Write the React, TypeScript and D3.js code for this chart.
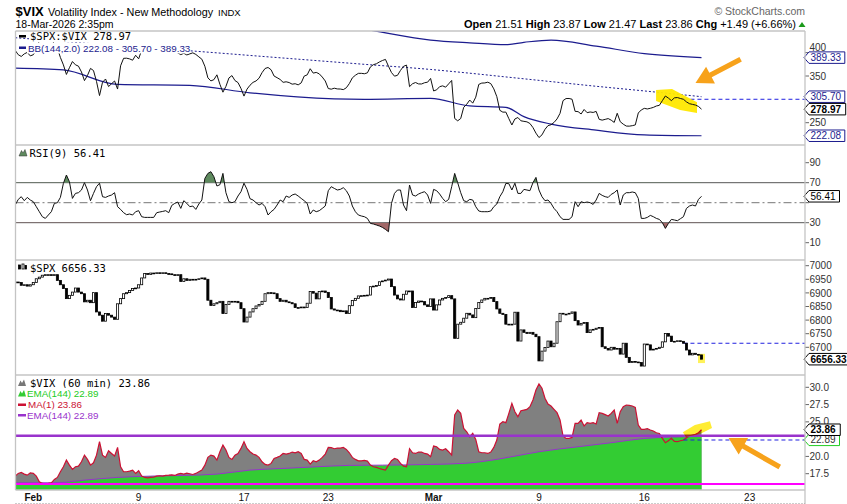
import React from "react"
import * as d3 from "d3"

// 60-minute bars. bar 0 = Mon 2 Feb 9:30, bar 222 = Wed 18 Mar 14:30 (last, partial day)
const firstBar = -6

const vixClose = [
  17.15, 17.54, 17.68, 17.44, 17.29, 17.63, // Jan 30
  17.54, 17.15, 16.33, 16.09, 16.04, 16.09, 16.18, // Feb 2
  16.67, 16.96, 17.78, 18.5, 19.47, 18.74, 18.12,
  18.5, 18.6, 19.23, 20.19, 19.57, 18.74, 19.08,
  20.19, 22.13, 20.19, 19.86, 20.82, 20.43, 20.05,
  21.3, 18.5, 17.78, 17.78, 17.87, 18.02, 17.54,
  17.92, 17.15, 16.96, 16.91, 16.96, 17.0, 17.15, // Feb 9
  17.2, 17.15, 17.25, 17.29, 17.34, 17.25, 17.44,
  17.54, 17.44, 17.58, 17.49, 17.39, 17.54, 17.78,
  18.02, 18.74, 19.86, 20.19, 20.05, 19.47, 20.68,
  21.64, 20.92, 19.86, 19.57, 20.19, 20.43, 21.16,
  22.13, 21.16, 20.68, 20.34, 20.19, 19.86, 19.23, // Feb 17
  18.84, 18.74, 18.99, 19.71, 19.86, 20.05, 20.43,
  20.34, 20.43, 20.63, 20.53, 20.68, 20.43, 19.57,
  19.47, 18.89, 19.37, 19.23, 19.47, 19.86, 20.34,
  21.3, 21.26, 21.11, 21.21, 21.21, 21.3, 21.01, // Feb 23
  20.53, 19.86, 19.57, 19.37, 19.37, 19.42, 19.32,
  18.74, 18.5, 18.41, 18.26, 18.12, 18.02, 18.74,
  19.37, 19.71, 19.57, 18.99, 18.6, 18.5, 21.11,
  20.53, 20.43, 20.63, 20.63, 20.43, 20.34, 19.95,
  21.5, 21.4, 21.01, 20.92, 21.11, 20.68, 20.2, // Mar 2
  25.99, 26.71, 26.23, 24.06, 23.57, 22.85, 23.33,
  22.46, 20.68, 20.53, 20.53, 20.43, 20.63, 21.3,
  22.37, 24.69, 25.02, 24.88, 26.23, 27.68, 26.47,
  25.75, 26.62, 26.71, 26.81, 27.2, 28.16, 29.61,
  30.48, 29.86, 28.41, 27.58, 27.29, 26.81, 26.33, // Mar 9
  25.27, 22.95, 22.61, 22.61, 22.75, 24.78, 24.78,
  25.27, 24.4, 24.88, 24.78, 24.88, 24.69, 26.33,
  26.23, 26.04, 25.85, 26.23, 26.71, 24.78, 26.47,
  27.2, 27.44, 27.39, 27.29, 27.1, 24.54, 23.91,
  23.91, 24.01, 23.82, 23.67, 23.43, 23.33, 22.61, // Mar 16
  21.98, 22.27, 22.61, 22.17, 22.13, 22.27, 22.37,
  22.71, 22.95, 23.09, 23.19, 23.43, 23.86,
]

const spxClose = [
  6940, 6938, 6928, 6930, 6925, 6930, // Jan 30
  6938, 6952, 6958, 6965, 6967, 6967, 6965, // Feb 2
  6967, 6946, 6930, 6916, 6879, 6891, 6903,
  6918, 6903, 6897, 6867, 6873, 6864, 6901,
  6830, 6818, 6796, 6824, 6818, 6811, 6803,
  6860, 6879, 6897, 6901, 6909, 6916, 6918,
  6930, 6955, 6971, 6968, 6973, 6971, 6974, // Feb 9
  6972, 6974, 6971, 6970, 6967, 6965, 6967,
  6942, 6952, 6946, 6950, 6949, 6950, 6952,
  6955, 6950, 6873, 6854, 6860, 6864, 6869,
  6824, 6857, 6869, 6867, 6869, 6864, 6842,
  6793, 6811, 6830, 6842, 6852, 6857, 6869, // Feb 17
  6897, 6901, 6900, 6897, 6879, 6869, 6873,
  6867, 6864, 6860, 6846, 6846, 6848, 6846,
  6862, 6905, 6899, 6878, 6905, 6907, 6902,
  6883, 6841, 6837, 6836, 6831, 6834, 6824, // Feb 23
  6853, 6872, 6880, 6889, 6890, 6891, 6892,
  6923, 6925, 6927, 6941, 6944, 6947, 6951,
  6923, 6892, 6878, 6874, 6895, 6907, 6907,
  6846, 6865, 6870, 6868, 6856, 6850, 6878,
  6837, 6856, 6874, 6880, 6883, 6890, 6878, // Mar 2
  6733, 6785, 6792, 6807, 6825, 6819, 6809,
  6843, 6865, 6874, 6880, 6880, 6883, 6868,
  6841, 6825, 6821, 6785, 6782, 6785, 6829,
  6723, 6764, 6755, 6751, 6755, 6748, 6739,
  6650, 6686, 6699, 6723, 6702, 6715, 6794, // Mar 9
  6825, 6822, 6822, 6825, 6830, 6798, 6782,
  6788, 6791, 6754, 6764, 6766, 6770, 6773,
  6702, 6696, 6690, 6700, 6693, 6696, 6675,
  6715, 6663, 6644, 6648, 6646, 6644, 6631,
  6712, 6709, 6690, 6693, 6696, 6700, 6720, // Mar 16
  6751, 6741, 6721, 6722, 6724, 6722, 6715,
  6690, 6672, 6678, 6674, 6672, 6656.33,
]

const rsi9 = [
  47.7, 53.3, 56, 52, 55.3, 52.7, // Jan 30
  51, 46, 41, 36, 34.3, 37.7, 41, // Feb 2
  49.3, 50, 55.3, 69.3, 77.7, 71, 54.3,
  59.3, 60, 62.7, 70, 62.7, 52, 59.3,
  66, 69.5, 56, 55.3, 56.7, 57.7, 60,
  46, 43.3, 40, 38, 38.7, 37.7, 41,
  42, 36, 35.3, 35.3, 35.3, 35.3, 40, // Feb 9
  40.7, 41.3, 42, 40, 47.3, 49.3, 50.7,
  44.3, 52, 49.3, 46, 46.7, 43.3, 48.7,
  52.7, 74.3, 79.3, 81, 76, 66.7, 68,
  79.3, 60, 51, 50, 51, 56.7, 61,
  69.5, 63.3, 54, 52.7, 50, 47.7, 49.3, // Feb 17
  46, 37.7, 41, 43.3, 47.7, 52.7, 51,
  56.7, 55.3, 57.7, 58.7, 56.7, 54.3, 52,
  49.3, 38.7, 42.7, 41, 42, 44.3, 46.7,
  62, 66, 64.3, 62.7, 63.3, 65, 62, // Feb 23
  56.7, 46.7, 41, 37.7, 36.7, 36, 34.3,
  29.3, 28.7, 27.7, 26.7, 25.3, 23.3, 21,
  49.3, 59.3, 62.7, 62.7, 47.7, 42, 67.7,
  57.7, 56.7, 58.7, 60, 61, 57.7, 49.3,
  63.3, 62, 58.7, 54.3, 51, 53.3, 66, // Mar 2
  79.3, 70, 60, 52, 51, 53.3, 52.7,
  46, 41.7, 41, 41, 41, 41.7, 46,
  48.7, 56, 61, 69.3, 69, 62.7, 69.5,
  59.3, 59.3, 63.3, 62.7, 62, 70, 75.3,
  62.7, 56, 52, 52.7, 49.3, 44.3, 41, // Mar 9
  36, 33.3, 33.3, 33.3, 36, 51, 46,
  51, 50, 50.7, 50, 48.3, 52.7, 59.3,
  57.3, 56, 55.3, 58.3, 60, 62.7, 47.7,
  57.7, 60, 60, 60.7, 60, 54.3, 34.3,
  34.3, 35.3, 37.3, 36, 34.3, 33.3, 30, // Mar 16
  24.3, 29.3, 33.3, 32.7, 32, 34, 36,
  44.3, 46.7, 47.7, 46.7, 53.3, 56.41,
]

// Bollinger Bands(144,2) on $SPX:$VIX, read at a few bars
const bbBars = [-6, 10, 28, 52, 72, 100, 110, 132, 145, 157, 163, 172, 187, 203, 222]
const bbLower = [367, 363, 332, 330, 314, 301, 300, 302, 286, 283, 263, 247, 234, 224, 222.08]
const bbMiddle = [432, 424, 415, 404, 394, 380, 375, 364, 356, 348, 344, 338, 328, 318, 305.7]
const bbUpper = [497, 485, 498, 478, 474, 459, 450, 427, 421, 417, 422, 427, 414, 398, 389.33]

// EMA(144) of $VIX, read at a few bars
const emaBars = [-6, 7, 17, 28, 39, 50, 61, 72, 83, 94, 105, 116, 132, 143, 154, 168, 181, 192, 203, 212, 222]
const emaValues = [16.18, 16.18, 16.57, 16.96, 17.15, 17.25, 17.44, 18.02, 18.26, 18.5, 18.7, 18.74, 18.84, 18.99, 19.57, 20.68, 21.4, 21.98, 22.6, 22.8, 22.89]

const vixLevelLine = 23.0
const vixFloorLine = 16.0
const prevCloseBar = 216

const dayTickBars = [0, 35, 70, 98, 133, 168, 203, 238]
const dayTickLabels = ["Feb", "9", "17", "23", "Mar", "9", "16", "23"]

const ratioTicks = [250, 300, 350, 400]
const rsiTicks = [10, 30, 50, 70, 90]
const spxTicks = [6700, 6750, 6800, 6850, 6900, 6950, 7000]
const vixTicks = [17.5, 20, 22.5, 25, 27.5, 30]

const W = 847
const H = 504
const L = 15.5
const R = 805
const p1 = { top: 31, bottom: 145 }
const p2 = { top: 145, bottom: 260 }
const p3 = { top: 260, bottom: 375 }
const p4 = { top: 375, bottom: 490 }

const ARIAL = "'Liberation Sans', Arial, sans-serif"
const MONO = "'DejaVu Sans Mono', monospace"
const NAVY = "#1c1c8e"

const x = d3.scaleLinear().domain([0, 222]).range([33.3, 701.5])
const yRatio = d3.scaleLinear().domain([250, 350]).range([122.7, 76])
const yRsi = d3.scaleLinear().domain([30, 70]).range([222.7, 182.7])
const ySpx = d3.scaleLinear().domain([6700, 7000]).range([347.3, 265.7])
const yVix = d3.scaleLinear().domain([17.5, 30]).range([473.7, 387.3])

const barX = (_: number, k: number) => x(firstBar + k)

function arrowPath(tx: number, ty: number, sx: number, sy: number, head = 17, half = 9.5, shaft = 2.6) {
  const dx = tx - sx
  const dy = ty - sy
  const len = Math.hypot(dx, dy)
  const ux = dx / len
  const uy = dy / len
  const nx = -uy
  const ny = ux
  const bx = tx - ux * head
  const by = ty - uy * head
  const pts = [
    [sx + nx * shaft, sy + ny * shaft],
    [bx + nx * shaft, by + ny * shaft],
    [bx + nx * half, by + ny * half],
    [tx, ty],
    [bx - nx * half, by - ny * half],
    [bx - nx * shaft, by - ny * shaft],
    [sx - nx * shaft, sy - ny * shaft],
  ]
  return "M" + pts.map((p) => p.join(",")).join("L") + "Z"
}

function ValueBox({ y, text, color, bold = false, textColor }: { y: number; text: string; color: string; bold?: boolean; textColor?: string }) {
  const x0 = R - 1
  const w = text.length * (bold ? 5.45 : 5.3) + 4
  const h = 11.5
  return (
    <g>
      <path
        d={`M${x0},${y} L${x0 + 5},${y - h / 2} L${x0 + 5 + w},${y - h / 2} L${x0 + 5 + w},${y + h / 2} L${x0 + 5},${y + h / 2} Z`}
        fill="#fff"
        stroke={color}
        strokeWidth={1}
      />
      <text x={x0 + 6.5} y={y} dy="0.36em" fontSize={10} fontWeight={bold ? "bold" : "normal"} fill={textColor || color} fontFamily={ARIAL}>
        {text}
      </text>
    </g>
  )
}

// tick labels that sit under a value box are left unlabelled (the box covers them in the original)
function RightAxis({ ticks, scale, fmt, covered = [] }: { ticks: number[]; scale: (v: number) => number; fmt: (v: number) => string; covered?: number[] }) {
  return (
    <g>
      {ticks.map((t) => (
        <g key={t}>
          <line x1={R} x2={R + 4} y1={scale(t)} y2={scale(t)} stroke="#666" strokeWidth={1} />
          {!covered.includes(t) && (
            <text x={R + 4.5} y={scale(t)} dy="0.36em" fontSize={10} fill="#333" fontFamily={ARIAL}>
              {fmt(t)}
            </text>
          )}
        </g>
      ))}
    </g>
  )
}

function Legend({ x0, y, text, color, mono, w }: { x0: number; y: number; text: string; color: string; mono?: boolean; w?: number }) {
  const width = w ?? text.length * (mono ? 6.32 : 5.2)
  return (
    <g>
      <rect x={x0 - 1} y={y - 9} width={width + 2} height={11} fill="#fff" />
      <text x={x0} y={y} fontSize={mono ? 10.5 : 9.8} fill={color} fontFamily={mono ? MONO : ARIAL}>
        {text}
      </text>
    </g>
  )
}

export default function App() {
  const ratio = spxClose.map((s, k) => s / vixClose[k])
  const prevK = prevCloseBar - firstBar

  const ratioLine = d3.line<number>().x(barX).y((v) => yRatio(v))
  const bbLine = d3
    .line<number>()
    .x((_, k) => x(bbBars[k]))
    .y((v) => yRatio(v))
    .curve(d3.curveMonotoneX)

  const rsiLine = d3.line<number>().x(barX).y((v) => yRsi(v))
  const rsiArea70 = d3.area<number>().x(barX).y0(yRsi(70)).y1((v) => yRsi(v))
  const rsiArea30 = d3.area<number>().x(barX).y0(yRsi(30)).y1((v) => yRsi(v))

  const vixArea = d3.area<number>().x(barX).y0(p4.bottom).y1((v) => yVix(v))
  const vixLine = d3.line<number>().x(barX).y((v) => yVix(v))
  const emaArea = d3
    .area<number>()
    .x((_, k) => x(emaBars[k]))
    .y0(p4.bottom)
    .y1((v) => yVix(v))
    .curve(d3.curveMonotoneX)
  const emaLine = d3
    .line<number>()
    .x((_, k) => x(emaBars[k]))
    .y((v) => yVix(v))
    .curve(d3.curveMonotoneX)

  const lastK = spxClose.length - 1
  const lastBar = firstBar + lastK

  const topHighlight = d3.line<[number, number]>().x((d) => x(d[0])).y((d) => yRatio(d[1]))([
    [206.9, 320], [212.2, 322], [220.5, 294], [220.5, 271], [214.9, 277], [206.9, 296.5],
  ])
  const vixHighlight = d3.line<[number, number]>().x((d) => x(d[0])).y((d) => yVix(d[1]))([
    [215.8, 23.5], [219.8, 24.55], [224.8, 25.1], [225.5, 24.1], [221.5, 23.25], [216.8, 22.8],
  ])

  return (
    <svg width={W} height={H} style={{ position: "absolute", left: 0, top: 0, background: "#fff" }} fontFamily={ARIAL}>
      <defs>
        {[p1, p2, p3, p4].map((p, i) => (
          <clipPath id={`clip${i + 1}`} key={i}>
            <rect x={L} y={p.top} width={R - L} height={p.bottom - p.top} />
          </clipPath>
        ))}
        <clipPath id="above70">
          <rect x={L} y={p2.top} width={R - L} height={yRsi(70) - p2.top} />
        </clipPath>
        <clipPath id="below30">
          <rect x={L} y={yRsi(30)} width={R - L} height={p2.bottom - yRsi(30)} />
        </clipPath>
      </defs>

      {/* header */}
      <text x={15.5} y={16} fontSize={13} fontWeight="bold" fill="#000">$VIX</text>
      <text x={48} y={16} fontSize={10.8} fill="#000">Volatility Index - New Methodology</text>
      <text x={218} y={16} fontSize={9.5} fill="#000">INDX</text>
      <text x={15.5} y={27.5} fontSize={10.5} fill="#000">18-Mar-2026 2:35pm</text>
      <text x={R} y={15} fontSize={10.5} fill="#666" textAnchor="end">© StockCharts.com</text>
      <text x={796} y={27.5} fontSize={11} fill="#000" textAnchor="end">
        <tspan fontWeight="bold">Open</tspan> 21.51  <tspan fontWeight="bold">High</tspan> 23.87  <tspan fontWeight="bold">Low</tspan> 21.47  <tspan fontWeight="bold">Last</tspan> 23.86  <tspan fontWeight="bold">Chg</tspan> +1.49 (+6.66%)
      </text>
      <path d="M798.5,27 L802,22 L805.5,27 Z" fill="#1a9a1a" />

      {/* panel 1: $SPX:$VIX with BB */}
      <g clipPath="url(#clip1)">
        <path d={bbLine(bbUpper) || ""} fill="none" stroke={NAVY} strokeWidth={1.2} />
        <path d={bbLine(bbLower) || ""} fill="none" stroke={NAVY} strokeWidth={1.2} />
        <path d={bbLine(bbMiddle) || ""} fill="none" stroke={NAVY} strokeWidth={1} strokeDasharray="2,2" />
        <line x1={x(prevCloseBar)} x2={R} y1={yRatio(ratio[prevK])} y2={yRatio(ratio[prevK])} stroke="#2020e0" strokeWidth={1} strokeDasharray="4,3" />
        <path d={topHighlight || ""} fill="#ffe800" opacity={0.95} />
        <path d={ratioLine(ratio) || ""} fill="none" stroke="#111" strokeWidth={1} />
      </g>
      <Legend x0={30} y={40} text="$SPX:$VIX 278.97" color="#000" mono />
      <Legend x0={28} y={51.5} text="BB(144,2.0) 222.08 - 305.70 - 389.33" color={NAVY} w={160} />
      <rect x={19} y={35} width={7} height={2.5} fill="#000" />
      <rect x={19} y={46.5} width={7} height={2.5} fill={NAVY} />
      <path d={arrowPath(x(220), yRatio(335), x(235), yRatio(386))} fill="#f7a21b" />
      <RightAxis ticks={ratioTicks} scale={yRatio} fmt={(v) => String(v)} covered={[300, 400]} />
      <text x={R + 4.5} y={yRatio(400) - 2} fontSize={10} fill="#333">400</text>
      <ValueBox y={yRatio(389.33)} text="389.33" color={NAVY} />
      <ValueBox y={yRatio(305.7)} text="305.70" color={NAVY} />
      <ValueBox y={yRatio(222.08)} text="222.08" color={NAVY} />
      <ValueBox y={yRatio(ratio[lastK])} text="278.97" color="#000" bold />

      {/* panel 2: RSI(9) */}
      <g clipPath="url(#clip2)">
        <line x1={L} x2={R} y1={yRsi(70)} y2={yRsi(70)} stroke="#555" strokeWidth={1} />
        <line x1={L} x2={R} y1={yRsi(30)} y2={yRsi(30)} stroke="#555" strokeWidth={1} />
        <line x1={L} x2={R} y1={yRsi(50)} y2={yRsi(50)} stroke="#777" strokeWidth={1} strokeDasharray="8,3,2,3" />
        <path d={rsiArea70(rsi9) || ""} fill="#5e8a5e" clipPath="url(#above70)" />
        <path d={rsiArea30(rsi9) || ""} fill="#a26868" clipPath="url(#below30)" />
        <path d={rsiLine(rsi9) || ""} fill="none" stroke="#111" strokeWidth={1} />
      </g>
      <Legend x0={29.5} y={156.5} text="RSI(9) 56.41" color="#000" mono />
      <path d="M19,156 L21.5,150.5 L23,153 L25,149.5 L27,156 Z" fill="#5e8a5e" stroke="#333" strokeWidth={0.5} />
      <RightAxis ticks={rsiTicks} scale={yRsi} fmt={(v) => String(v)} covered={[50]} />
      <ValueBox y={yRsi(56.41)} text="56.41" color="#000" />

      {/* panel 3: $SPX candles */}
      <g clipPath="url(#clip3)">
        <line x1={x(prevCloseBar)} x2={R} y1={ySpx(spxClose[prevK])} y2={ySpx(spxClose[prevK])} stroke="#2020e0" strokeWidth={1.1} strokeDasharray="4,3" />
        <rect x={x(lastBar) - 3.5} y={ySpx(6676)} width={7} height={ySpx(6642) - ySpx(6676)} fill="#fff25a" />
        {spxClose.map((c, k) => {
          const o = k === 0 ? c : spxClose[k - 1]
          const top = ySpx(Math.max(o, c))
          const bot = ySpx(Math.min(o, c))
          return (
            <rect
              key={k}
              x={x(firstBar + k) - 1.05}
              y={top}
              width={2.1}
              height={Math.max(bot - top, 0.8)}
              fill={c >= o ? "#fff" : "#000"}
              stroke="#000"
              strokeWidth={0.8}
            />
          )
        })}
      </g>
      <Legend x0={30} y={271.5} text="$SPX 6656.33" color="#000" mono />
      <g stroke="#000" strokeWidth={0.8}>
        <rect x={18.5} y={265} width={2} height={4} fill="#000" />
        <rect x={22} y={264} width={2} height={5} fill="#fff" />
        <rect x={25} y={265.5} width={1.5} height={3.5} fill="#000" />
      </g>
      <RightAxis ticks={spxTicks} scale={ySpx} fmt={(v) => String(v)} />
      <ValueBox y={ySpx(6656.33)} text="6656.33" color="#000" bold />

      {/* panel 4: $VIX 60 min */}
      <g clipPath="url(#clip4)">
        <path d={vixArea(vixClose) || ""} fill="#808080" />
        <path d={emaArea(emaValues) || ""} fill="#33cc33" />
        <path d={emaLine(emaValues) || ""} fill="none" stroke="#9933cc" strokeWidth={1} />
        <path d={vixLine(vixClose) || ""} fill="none" stroke="#cc1133" strokeWidth={1.2} />
        <line x1={x(prevCloseBar)} x2={R} y1={yVix(vixClose[prevK])} y2={yVix(vixClose[prevK])} stroke="#2020e0" strokeWidth={1.1} strokeDasharray="4,3" />
        <line x1={L} x2={R} y1={yVix(vixLevelLine)} y2={yVix(vixLevelLine)} stroke="#9933cc" strokeWidth={2.6} />
        <line x1={L} x2={R} y1={yVix(vixFloorLine)} y2={yVix(vixFloorLine)} stroke="#ff00ff" strokeWidth={2} />
        <path d={vixHighlight || ""} fill="#ffe800" opacity={0.8} style={{ mixBlendMode: "multiply" }} />
      </g>
      <Legend x0={30} y={386.5} text="$VIX (60 min) 23.86" color="#000" mono />
      <Legend x0={27} y={397} text="EMA(144) 22.89" color="#22cc22" />
      <Legend x0={28} y={408} text="MA(1) 23.86" color="#cc1133" />
      <Legend x0={27} y={418.5} text="EMA(144) 22.89" color="#9933cc" />
      <path d="M18,386 L20.5,380.5 L22,383 L24,379.5 L26,386 Z" fill="#777" />
      <path d="M18,396.5 L20.5,391 L22,393.5 L24,390 L26,396.5 Z" fill="#33cc33" />
      <rect x={18} y={403.5} width={8} height={2.5} fill="#cc1133" />
      <rect x={18} y={414} width={8} height={2.5} fill="#9933cc" />
      <path d={arrowPath(x(231), yVix(22.67), x(248), yVix(18.47))} fill="#f7a21b" />
      <RightAxis ticks={vixTicks} scale={yVix} fmt={(v) => v.toFixed(1)} covered={[22.5]} />
      <ValueBox y={yVix(22.4)} text="22.89" color="#22cc22" textColor="#333" />
      <ValueBox y={yVix(23.86)} text="23.86" color="#000" bold />

      {/* frames */}
      <g stroke="#c4c4c4" strokeWidth={1.3} fill="none">
        {[p1.top, p2.top, p3.top, p4.top, p4.bottom].map((y) => (
          <line key={y} x1={L} x2={R} y1={y} y2={y} />
        ))}
        <line x1={L} x2={L} y1={p1.top} y2={p4.bottom} />
        <line x1={R} x2={R} y1={p1.top} y2={H} />
      </g>

      {/* time axis */}
      {dayTickBars.map((b, i) => {
        const month = isNaN(Number(dayTickLabels[i]))
        return (
          <text key={i} x={x(b)} y={501} fontSize={10} fontWeight={month ? "bold" : "normal"} textAnchor="middle" fill="#111">
            {dayTickLabels[i]}
          </text>
        )
      })}
      <line x1={L} x2={R} y1={503.5} y2={503.5} stroke="#999" strokeWidth={1} strokeDasharray="1,2" />
    </svg>
  )
}
